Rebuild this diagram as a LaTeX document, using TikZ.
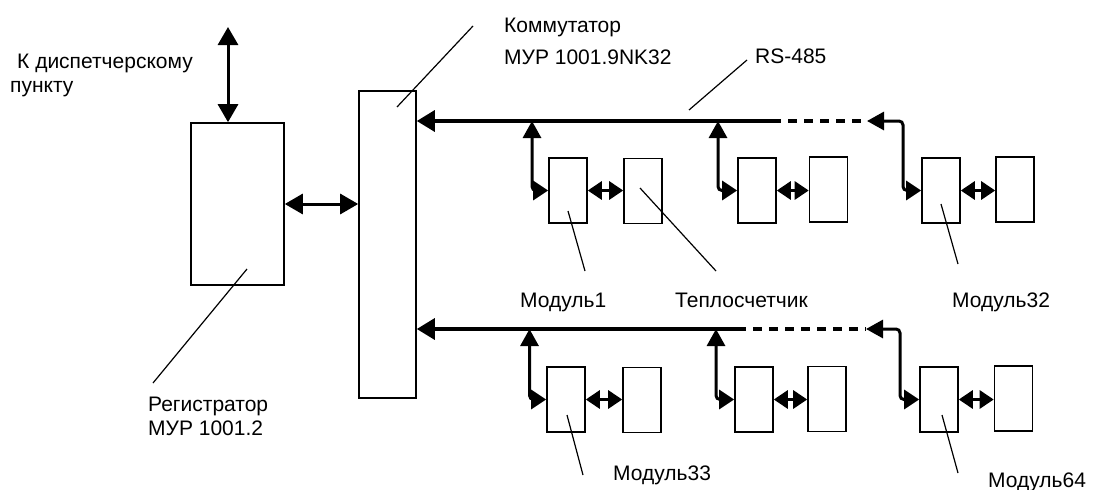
\documentclass[tikz,border=0pt]{standalone}
\usepackage{fontspec}
\setmainfont{Liberation Sans}
\usetikzlibrary{arrows.meta}
\begin{document}
\begin{tikzpicture}[x=1pt,y=-1pt,
  box/.style={draw, line width=1.6pt, inner sep=0pt, minimum width=38pt, minimum height=65pt},
  bigbox/.style={draw, line width=1.6pt, inner sep=0pt},
  lbl/.style={anchor=base west, inner sep=0pt, font=\fontsize{21}{24}\selectfont},
  leader/.style={line width=1.2pt},
  dashbus/.style={line width=3.3pt, dash pattern=on 9pt off 7pt},
  bigarrow/.style={line width=3pt, {Triangle[length=18pt,width=20pt]}-{Triangle[length=18pt,width=20pt]}},
  headleft/.style={line width=3.3pt, -{Triangle[length=18pt,width=21pt]}},
  tap/.style={line width=3pt, rounded corners=4pt, {Triangle[length=17pt,width=18pt]}-{Triangle[length=15pt,width=19pt]}},
  pair/.style={line width=3pt, {Triangle[length=14pt,width=18pt]}-{Triangle[length=14pt,width=18pt]}}
]
\useasboundingbox (0,0) rectangle (1093,490);

% main blocks
\node[bigbox, minimum width=93pt, minimum height=162pt] (reg) at (237.5,204) {};
\node[bigbox, minimum width=57pt, minimum height=307pt] (comm) at (387.5,244.5) {};

% dispatcher arrow
\coordinate (disp) at (228,27);
\draw[bigarrow] (disp) -- (disp |- reg.north);
\draw[bigarrow] (reg.east) -- (comm.west |- reg.east);

% upper row modules
\node[box] (m1) at (568,190.5) {};
\node[box] (a1) at (643,191) {};
\node[box] (m2) at (757,190.5) {};
\node[box] (a2) at (828.5,189.5) {};
\node[box] (m32) at (941,190.5) {};
\node[box] (a32) at (1015,189.5) {};

% lower row modules
\node[box] (m33) at (566,399.5) {};
\node[box] (a33) at (642,400) {};
\node[box] (m34) at (754,399.5) {};
\node[box] (a34) at (827,399) {};
\node[box] (m64) at (939,399.5) {};
\node[box] (a64) at (1013.5,398.5) {};

% upper bus
\coordinate (u0) at (416,121);
\coordinate (ud) at (772,121);
\coordinate (ue) at (867,121);
\coordinate (ut1) at (532,121);
\coordinate (ut2) at (718,121);
\coordinate (uc) at (903,121);
\draw[headleft] (ud) -- (comm.east |- u0);
\draw[dashbus] (ud) -- (ue);
\draw[tap] (ut1) -- (ut1 |- m1.west) -- (m1.west);
\draw[tap] (ut2) -- (ut2 |- m2.west) -- (m2.west);
\draw[tap] (ue) -- (uc) -- (uc |- m32.west) -- (m32.west);
\draw[pair] (m1.east) -- (a1.west |- m1.east);
\draw[pair] (m2.east) -- (a2.west |- m2.east);
\draw[pair] (m32.east) -- (a32.west |- m32.east);

% lower bus
\coordinate (l0) at (416,329);
\coordinate (ld) at (737,329);
\coordinate (le) at (866,329);
\coordinate (lt1) at (529.5,329);
\coordinate (lt2) at (716,329);
\coordinate (lc) at (900,329);
\draw[headleft] (ld) -- (comm.east |- l0);
\draw[dashbus] (ld) -- (le);
\draw[tap] (lt1) -- (lt1 |- m33.west) -- (m33.west);
\draw[tap] (lt2) -- (lt2 |- m34.west) -- (m34.west);
\draw[tap] (le) -- (lc) -- (lc |- m64.west) -- (m64.west);
\draw[pair] (m33.east) -- (a33.west |- m33.east);
\draw[pair] (m34.east) -- (a34.west |- m34.east);
\draw[pair] (m64.east) -- (a64.west |- m64.east);

% labels
\node[lbl] (tdisp1) at (17,68) {К диспетчерскому};
\node[lbl] (tdisp2) at (10,92.5) {пункту};
\node[lbl] (tcomm1) at (504,32.5) {Коммутатор};
\node[lbl] (tcomm2) at (504,64.5) {МУР 1001.9NK32};
\node[lbl] (trs) at (755,63.5) {RS-485};
\node[lbl] (treg1) at (148,411) {Регистратор};
\node[lbl] (treg2) at (148,435) {МУР 1001.2};
\node[lbl] (tm1) at (520,307) {Модуль1};
\node[lbl] (tteplo) at (675,307) {Теплосчетчик};
\node[lbl] (tm32) at (952,307) {Модуль32};
\node[lbl] (tm33) at (613,480) {Модуль33};
\node[lbl] (tm64) at (988,487) {Модуль64};

% leader lines
\draw[leader] (247,269) -- (153,383);
\draw[leader] (397,107) -- (473,26);
\draw[leader] (689,110) -- (747,60);
\draw[leader] (568,211) -- (585,271);
\draw[leader] (640,188) -- (716,271);
\draw[leader] (941,204) -- (958,264);
\draw[leader] (567,415) -- (583,475);
\draw[leader] (942,415) -- (958,473);
\end{tikzpicture}
\end{document}
